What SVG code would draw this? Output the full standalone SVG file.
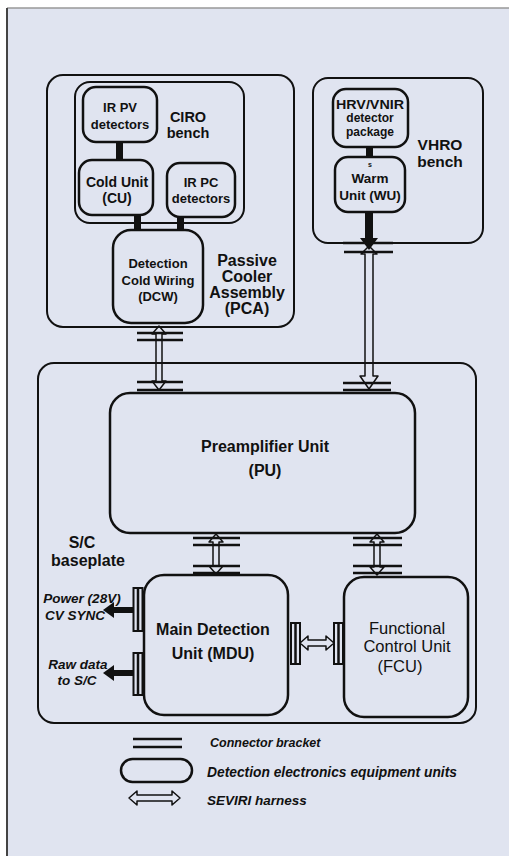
<svg xmlns="http://www.w3.org/2000/svg" width="509" height="856" viewBox="0 0 509 856">
<style>
text{font-family:"Liberation Sans",Arial,sans-serif;fill:#111;text-anchor:middle}
.b{font-weight:bold}
.bi{font-weight:bold;font-style:italic}
.lg{text-anchor:start}
.enc{fill:none;stroke:#111;stroke-width:2}
.unit{fill:none;stroke:#111;stroke-width:2.5}
.har{fill:#e0e4f0;stroke:#111;stroke-width:1.5;stroke-linejoin:round}
.br{stroke:#111;stroke-width:2.5}
.brk{fill:#e0e4f0;stroke:#111;stroke-width:2}
.thick{fill:#111}
</style>
<rect x="0" y="0" width="509" height="856" fill="#ffffff"/>
<rect x="7" y="8" width="502" height="848" fill="#e0e4f0"/>
<line x1="7" y1="8" x2="509" y2="8" stroke="#999" stroke-width="1.5"/>
<line x1="7" y1="8" x2="7" y2="856" stroke="#444" stroke-width="2"/>

<g id="connectors">
  <path class="har" d="M159,326 L166,334 L162,334 L162,381 L166,381 L159,390 L152,381 L156,381 L156,334 L152,334 Z"/>
  <path class="har" d="M369,246 L377,254 L373,254 L373,376 L378,376 L369,389 L360,376 L365,376 L365,254 L361,254 Z"/>
  <path class="har" d="M216,534 L223,542 L219,542 L219,566 L223,566 L216,574 L209,566 L213,566 L213,542 L209,542 Z"/>
  <path class="har" d="M377,534 L384,542 L380,542 L380,567 L384,567 L377,575 L370,567 L374,567 L374,542 L370,542 Z"/>
  <path class="har" d="M300,643 L308,636 L308,640 L326,640 L326,636 L334,643 L326,650 L326,646 L308,646 L308,650 Z"/>
  <rect class="thick" x="116" y="141" width="7" height="20"/>
  <rect class="thick" x="134" y="214" width="7" height="17"/>
  <rect class="thick" x="177" y="216" width="7" height="15"/>
  <rect class="thick" x="366" y="146" width="7" height="12"/>
  <rect class="thick" x="365" y="211" width="8" height="30"/>
  <path class="thick" d="M360,238 L378,238 L369,250 Z"/>
  <line class="br" x1="137" y1="333" x2="183" y2="333"/>
  <line class="br" x1="137" y1="340" x2="183" y2="340"/>
  <line class="br" x1="137" y1="382" x2="183" y2="382"/>
  <line class="br" x1="137" y1="390" x2="183" y2="390" stroke-width="4"/>
  <line class="br" x1="343" y1="243" x2="393" y2="243" stroke-width="4"/>
  <line class="br" x1="344" y1="252" x2="393" y2="252"/>
  <line class="br" x1="343" y1="383" x2="391" y2="383"/>
  <line class="br" x1="343" y1="390" x2="391" y2="390"/>
  <line class="br" x1="193" y1="538" x2="240" y2="538"/>
  <line class="br" x1="193" y1="545" x2="240" y2="545"/>
  <line class="br" x1="193" y1="566" x2="240" y2="566"/>
  <line class="br" x1="193" y1="573" x2="240" y2="573" stroke-width="4"/>
  <line class="br" x1="353" y1="538" x2="402" y2="538"/>
  <line class="br" x1="353" y1="545" x2="402" y2="545"/>
  <line class="br" x1="353" y1="566" x2="402" y2="566"/>
  <line class="br" x1="353" y1="573" x2="402" y2="573"/>
  <rect class="brk" x="133.5" y="588" width="9" height="43"/>
  <line class="br" x1="138" y1="588" x2="138" y2="631" stroke-width="2"/>
  <rect class="brk" x="133.5" y="653" width="9" height="42"/>
  <line class="br" x1="138" y1="653" x2="138" y2="695" stroke-width="2"/>
  <rect class="brk" x="291" y="623" width="9" height="41"/>
  <line class="br" x1="295.5" y1="623" x2="295.5" y2="664" stroke-width="2"/>
  <rect class="brk" x="334" y="623" width="9" height="41"/>
  <line class="br" x1="338.5" y1="623" x2="338.5" y2="664" stroke-width="2"/>
  <path class="thick" d="M134,607 L114,607 L114,602 L103,610 L114,618 L114,613 L134,613 Z"/>
  <path class="thick" d="M134,670 L114,670 L114,665 L103,673 L114,681 L114,676 L134,676 Z"/>
</g>

<g id="pca">
  <rect class="enc" x="47" y="75" width="247" height="252" rx="16"/>
  <text class="b" x="247" y="265.6" font-size="16">Passive</text>
  <text class="b" x="247" y="281.6" font-size="16">Cooler</text>
  <text class="b" x="247" y="297.6" font-size="16">Assembly</text>
  <text class="b" x="247" y="313.6" font-size="16">(PCA)</text>
</g>
<g id="ciro">
  <rect class="enc" x="75" y="82" width="169" height="141" rx="15"/>
  <text class="b" x="188" y="122" font-size="14.5">CIRO</text>
  <text class="b" x="188" y="138" font-size="14.5">bench</text>
</g>
<g id="irpv">
  <rect class="unit" x="83" y="87" width="74" height="55" rx="13"/>
  <text class="b" x="120" y="111.5" font-size="13">IR PV</text>
  <text class="b" x="120" y="128.5" font-size="13">detectors</text>
</g>
<g id="cu">
  <rect class="unit" x="79" y="160" width="74" height="55" rx="13"/>
  <text class="b" x="117" y="187" font-size="14">Cold Unit</text>
  <text class="b" x="117" y="203" font-size="14">(CU)</text>
</g>
<g id="irpc">
  <rect class="unit" x="167" y="163" width="68" height="54" rx="13"/>
  <text class="b" x="201" y="186.5" font-size="13">IR PC</text>
  <text class="b" x="201" y="202.5" font-size="13">detectors</text>
</g>
<g id="dcw">
  <rect class="unit" x="113" y="230" width="90" height="93" rx="18"/>
  <text class="b" x="158" y="267.5" font-size="13">Detection</text>
  <text class="b" x="158" y="284.5" font-size="13">Cold Wiring</text>
  <text class="b" x="158" y="300.5" font-size="13">(DCW)</text>
</g>
<g id="vhro">
  <rect class="enc" x="313" y="78" width="170" height="165" rx="15"/>
  <text class="b" x="440" y="150.4" font-size="15.5">VHRO</text>
  <text class="b" x="440" y="167.4" font-size="15.5">bench</text>
</g>
<g id="hrv">
  <rect class="unit" x="333" y="89" width="75" height="58" rx="13"/>
  <text class="b" x="370" y="108.5" font-size="12" textLength="68" lengthAdjust="spacingAndGlyphs">HRV/VNIR</text>
  <text class="b" x="370" y="122" font-size="12">detector</text>
  <text class="b" x="370" y="135.5" font-size="12">package</text>
</g>
<g id="wu">
  <rect class="unit" x="335" y="157" width="70" height="55" rx="13"/>
  <text class="b" x="370" y="167" font-size="7">s</text>
  <text class="b" x="370" y="182.7" font-size="13.5">Warm</text>
  <text class="b" x="370" y="199.7" font-size="13.5">Unit (WU)</text>
</g>
<g id="baseplate">
  <rect class="enc" x="38" y="363" width="438" height="360" rx="16"/>
  <text class="b" x="82" y="547.6" font-size="16">S/C</text>
  <text class="b" x="88" y="565.6" font-size="16">baseplate</text>
</g>
<g id="pu">
  <rect class="unit" x="110" y="393" width="305" height="140" rx="20"/>
  <text class="b" x="265" y="451.6" font-size="16">Preamplifier Unit</text>
  <text class="b" x="265" y="475.6" font-size="16">(PU)</text>
</g>
<g id="mdu">
  <rect class="unit" x="144" y="575" width="144" height="140" rx="20"/>
  <text class="b" x="213" y="634.6" font-size="16">Main Detection</text>
  <text class="b" x="213" y="658.6" font-size="16">Unit (MDU)</text>
</g>
<g id="fcu">
  <rect class="unit" x="344" y="577" width="124" height="140" rx="20"/>
  <text x="407" y="633.8" font-size="16.5">Functional</text>
  <text x="407" y="651.8" font-size="16.5">Control Unit</text>
  <text x="400" y="671.8" font-size="16.5">(FCU)</text>
</g>
<g id="outputs">
  <text class="bi" x="82" y="602.7" font-size="13.5">Power (28V)</text>
  <text class="bi" x="75" y="619.7" font-size="13.5">CV SYNC</text>
  <text class="bi" x="78" y="668.7" font-size="13.5">Raw data</text>
  <text class="bi" x="77" y="684.7" font-size="13.5">to S/C</text>
</g>
<g id="legend">
  <line class="br" x1="133" y1="739" x2="182" y2="739"/>
  <line class="br" x1="133" y1="747" x2="182" y2="747"/>
  <text class="bi lg" x="210" y="747.4" font-size="12.5">Connector bracket</text>
  <rect class="unit" x="121" y="759" width="71" height="23" rx="11.5"/>
  <text class="bi lg" x="207" y="776.8" font-size="13.8">Detection electronics equipment units</text>
  <path class="har" d="M129,798 L137,791 L137,795 L172,795 L172,791 L180,798 L172,805 L172,801 L137,801 L137,805 Z"/>
  <text class="bi lg" x="207" y="804.7" font-size="13.5">SEVIRI harness</text>
</g>
</svg>
